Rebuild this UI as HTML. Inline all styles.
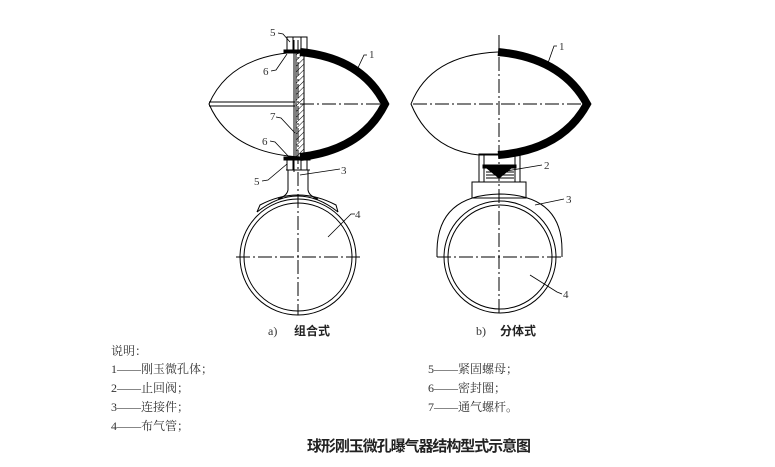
<!DOCTYPE html>
<html><head><meta charset="utf-8"><style>
html,body{margin:0;padding:0;background:#fff;}
svg{display:block;}
text{font-family:"Liberation Serif","Noto Serif CJK SC",serif;fill:#333;}
.s{font-family:"Liberation Sans","Noto Sans CJK SC",sans-serif;fill:#222;}
</style></head><body>
<svg width="775" height="467" viewBox="0 0 775 467" xmlns="http://www.w3.org/2000/svg">
<defs><pattern id="h" width="4" height="4" patternUnits="userSpaceOnUse" patternTransform="rotate(45)"><line x1="0" y1="0" x2="0" y2="4" stroke="#000" stroke-width="1"/></pattern></defs>
<g fill="none" stroke="#000" stroke-width="1">
<!-- LEFT -->
<path d="M300 52 Q230 55 209 104 Q230 153 300 157"/>
<path d="M300 52 Q362 58 385 104 Q362 150 300 157" stroke-width="8"/>
<line x1="209" y1="102" x2="295" y2="102"/><line x1="209" y1="106" x2="295" y2="106"/>
<rect x="296" y="52" width="8" height="105" fill="url(#h)"/>
<line x1="294" y1="40" x2="294" y2="172"/>
<rect x="287" y="37" width="20" height="13"/><line x1="293" y1="37" x2="293" y2="50"/><line x1="301" y1="37" x2="301" y2="50"/>
<rect x="284" y="50" width="26" height="3" fill="#000"/>
<rect x="284" y="157" width="26" height="3" fill="#000"/>
<rect x="287" y="160" width="20" height="10"/><line x1="293" y1="160" x2="293" y2="170"/><line x1="301" y1="160" x2="301" y2="170"/>
<path d="M288 170 L288 190 Q287 196 278 199 M308 170 L308 190 Q309 196 318 199"/>
<line x1="286" y1="170" x2="310" y2="170"/>
<path d="M257 212 Q298 180 338 212"/>
<path d="M257 212 L260 205 Q298 185 336 205 L338 212"/>
<circle cx="298" cy="257" r="58"/><circle cx="298" cy="257" r="54"/>
<line x1="298" y1="40" x2="298" y2="315" stroke-dasharray="14,3,2,3"/>
<line x1="300" y1="104" x2="380" y2="104" stroke-dasharray="14,3,2,3"/>
<line x1="236" y1="257" x2="360" y2="257" stroke-dasharray="14,3,2,3"/>
<!-- RIGHT -->
<path d="M498 52 Q430 55 411 104 Q430 150 479 155"/>
<line x1="479" y1="155" x2="498" y2="155"/>
<path d="M498 52 Q562 58 587 104 Q562 150 498 155" stroke-width="8"/>
<rect x="479" y="154" width="41" height="28"/>
<line x1="484" y1="154" x2="484" y2="182"/><line x1="515" y1="154" x2="515" y2="182"/>
<rect x="483" y="165" width="33" height="3" fill="#000"/>
<path d="M488 169 L510 169 L499 178 Z" fill="#000"/>
<line x1="486" y1="172" x2="514" y2="172"/><line x1="486" y1="175" x2="514" y2="175"/><line x1="486" y1="178" x2="514" y2="178"/>
<rect x="472" y="182" width="54" height="16"/>
<path d="M437 257 L437 250 Q438 195 500 194 Q562 195 562 250 L562 257"/>
<circle cx="500" cy="257" r="56"/><circle cx="500" cy="257" r="52"/>
<line x1="499" y1="35" x2="499" y2="315" stroke-dasharray="14,3,2,3"/>
<line x1="413" y1="104" x2="585" y2="104" stroke-dasharray="14,3,2,3"/>
<line x1="437" y1="257" x2="563" y2="257" stroke-dasharray="14,3,2,3"/>
<!-- leaders -->
<g stroke-width="0.8">
<path d="M278 33 L283 34 L290 42"/><path d="M271 71 L276 70 L287 54"/>
<path d="M367 55 L364 55 L356 72"/><path d="M276 117 L281 118 L295 133"/>
<path d="M270 141 L275 142 L290 158"/><path d="M262 181 L268 180 L287 164"/>
<path d="M340 169 L300 175"/><path d="M355 214 L351 214 L328 237"/>
<path d="M557 46 L554 46 L548 63"/><path d="M542 165 L500 172"/>
<path d="M564 199 L535 205"/><path d="M562 294 L557 292 L530 275"/>
</g>
</g>
<g font-size="11">
<text x="270" y="36">5</text><text x="263" y="75">6</text><text x="369" y="58">1</text>
<text x="270" y="120">7</text><text x="262" y="145">6</text><text x="254" y="185">5</text>
<text x="341" y="174">3</text><text x="355" y="218">4</text>
<text x="559" y="50">1</text><text x="544" y="169">2</text><text x="566" y="203">3</text><text x="563" y="298">4</text>
</g>
<g font-size="12">
<text x="268" y="335">a)</text><text x="294" y="335" class="s" font-weight="bold">组合式</text>
<text x="476" y="335">b)</text><text x="500" y="335" class="s" font-weight="bold">分体式</text>
<text x="111" y="355">说明：</text>
<text x="111" y="373">1——刚玉微孔体；</text>
<text x="111" y="392">2——止回阀；</text>
<text x="111" y="411">3——连接件；</text>
<text x="111" y="430">4——布气管；</text>
<text x="428" y="373">5——紧固螺母；</text>
<text x="428" y="392">6——密封圈；</text>
<text x="428" y="411">7——通气螺杆。</text>
</g>
<text x="307" y="451" font-size="15" class="s" font-weight="bold" textLength="224">球形刚玉微孔曝气器结构型式示意图</text>
</svg>
</body></html>
